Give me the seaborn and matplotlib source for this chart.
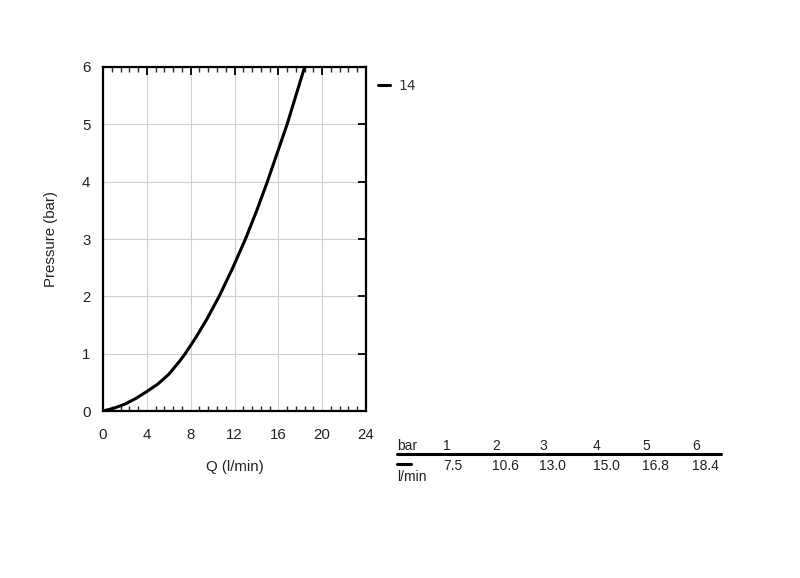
import seaborn as sns
import matplotlib.pyplot as plt
import matplotlib.lines as mlines
import pandas as pd
import numpy as np

# table values (bar -> l/min)
pressures = [1, 2, 3, 4, 5, 6]
flows = [7.5, 10.6, 13.0, 15.0, 16.8, 18.4]

# curve (passes through the table points)
curve_q = [0, 1, 2, 3, 4, 5, 6, 7, 7.5, 8.5, 9.5, 10.6, 11.8, 13.0, 14.0, 15.0, 15.9, 16.8, 17.6, 18.4]
curve_p = [0, 0.05, 0.12, 0.22, 0.34, 0.47, 0.64, 0.87, 1.0, 1.29, 1.61, 2.0, 2.48, 3.0, 3.48, 4.0, 4.5, 5.0, 5.5, 6.0]
series_name = "14"

x_ticks = [0, 4, 8, 12, 16, 20, 24]
y_ticks = [0, 1, 2, 3, 4, 5, 6]

sns.set_style("white")
plt.rcParams['font.family'] = ['Liberation Sans', 'DejaVu Sans']

df = pd.DataFrame({'Q': curve_q, 'P': curve_p})

fig = plt.figure(figsize=(8, 5.78), dpi=100)
ax = fig.add_axes([0.12875, 0.2889, 0.32875, 0.5952])

sns.lineplot(data=df, x='Q', y='P', ax=ax, color='black', linewidth=2.2,
             sort=False, estimator=None, label=series_name)

ax.set_xlim(0, 24)
ax.set_ylim(0, 6)
ax.set_xticks(x_ticks)
ax.set_yticks(y_ticks)
ax.set_xticks(np.arange(0, 24.01, 0.8), minor=True)
ax.grid(True, which='major', color='#cfcfcf', linewidth=0.8)
ax.tick_params(which='major', direction='in', length=6, width=1.3, top=True, right=True,
               labelsize=10.8, colors='black', labelcolor='#222222')
ax.tick_params(axis='x', which='major', pad=12)
ax.tick_params(axis='y', which='major', pad=9)
ax.tick_params(axis='x', which='minor', direction='in', length=3.5, width=1, top=True, bottom=True)
ax.tick_params(axis='y', which='minor', left=False, right=False)
for s in ax.spines.values():
    s.set_color('black')
    s.set_linewidth(1.6)

ax.set_xlabel("Q (l/min)", fontsize=10.8, color='#222222', labelpad=13)
ax.set_ylabel("Pressure (bar)", fontsize=10.8, color='#222222', labelpad=17)

leg = ax.legend(loc='center left', bbox_to_anchor=(378 / 800, 1 - 86 / 578),
                bbox_transform=fig.transFigure, frameon=False, borderpad=0, borderaxespad=0,
                handlelength=0.86, handletextpad=0.58, fontsize=10)
for t in leg.get_texts():
    t.set_family('DejaVu Sans')
    t.set_color('#333344')

# table below the legend
col_x = [443, 492, 539, 593, 642, 692]
def fx(px):
    return px / 800
def fy(py):
    return 1 - py / 578

fig.text(fx(397), fy(446), "bar", fontsize=10, color='#222222', va='center')
fig.text(fx(397), fy(477), "l/min", fontsize=10, color='#222222', va='center')
for x, p, q in zip(col_x, pressures, flows):
    fig.text(fx(x), fy(446), str(p), fontsize=10, color='#222222', va='center')
    fig.text(fx(x), fy(466), f"{q:.1f}", fontsize=10, color='#222222', va='center')
fig.add_artist(mlines.Line2D([fx(397), fx(721)], [fy(454), fy(454)], color='black', linewidth=2.2))
fig.add_artist(mlines.Line2D([fx(397), fx(411)], [fy(464), fy(464)], color='black', linewidth=2.2))

fig.savefig("out.png", dpi=100)
